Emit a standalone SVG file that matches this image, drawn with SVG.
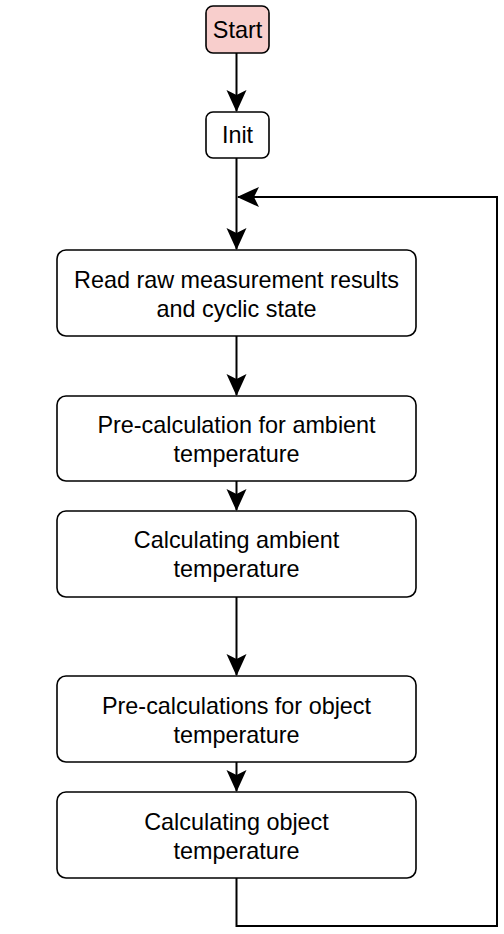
<svg xmlns="http://www.w3.org/2000/svg" width="504" height="934" viewBox="0 0 504 934">
<style>
.box{fill:#ffffff;stroke:#000;stroke-width:1.6}
.start{fill:#f8cecc;stroke:#000;stroke-width:1.6}
.t{font-family:"Liberation Sans",Arial,sans-serif;font-size:23.4px;fill:#000;text-anchor:middle}
.c{fill:none;stroke:#000;stroke-width:2}
</style>
<defs>
<marker id="arr" viewBox="0 0 22 22" refX="21" refY="11" markerWidth="22" markerHeight="22" markerUnits="userSpaceOnUse" orient="auto">
<path d="M0,1 L22,11 L0,21 L5,11 Z" fill="#000"/>
</marker>
</defs>
<rect width="504" height="934" fill="#fff"/>
<g id="connectors">
<path class="c" d="M236.5,53 V111" marker-end="url(#arr)"/>
<path class="c" d="M236.5,158 V249" marker-end="url(#arr)"/>
<path class="c" d="M236.5,336 V395" marker-end="url(#arr)"/>
<path class="c" d="M236.5,481 V510" marker-end="url(#arr)"/>
<path class="c" d="M236.5,597 V675" marker-end="url(#arr)"/>
<path class="c" d="M236.5,762 V791" marker-end="url(#arr)"/>
<path class="c" d="M236.5,878 V926 H497 V197 H238" marker-end="url(#arr)"/>
</g>
<g id="start">
<rect class="start" x="206" y="6" width="63" height="47" rx="7"/>
<text class="t" x="237.5" y="38">Start</text>
</g>
<g id="init">
<rect class="box" x="206" y="112" width="63" height="46" rx="7"/>
<text class="t" x="237.5" y="143">Init</text>
</g>
<g id="read">
<rect class="box" x="57" y="250" width="359" height="86" rx="9"/>
<text class="t" x="236.5" y="288">Read raw measurement results</text>
<text class="t" x="236.5" y="317">and cyclic state</text>
</g>
<g id="precalc-ambient">
<rect class="box" x="57" y="396" width="359" height="85" rx="9"/>
<text class="t" x="236.5" y="433">Pre-calculation for ambient</text>
<text class="t" x="236.5" y="462">temperature</text>
</g>
<g id="calc-ambient">
<rect class="box" x="57" y="511" width="359" height="86" rx="9"/>
<text class="t" x="236.5" y="548">Calculating ambient</text>
<text class="t" x="236.5" y="577">temperature</text>
</g>
<g id="precalc-object">
<rect class="box" x="57" y="676" width="359" height="86" rx="9"/>
<text class="t" x="236.5" y="714">Pre-calculations for object</text>
<text class="t" x="236.5" y="743">temperature</text>
</g>
<g id="calc-object">
<rect class="box" x="57" y="792" width="359" height="86" rx="9"/>
<text class="t" x="236.5" y="830">Calculating object</text>
<text class="t" x="236.5" y="859">temperature</text>
</g>
</svg>
